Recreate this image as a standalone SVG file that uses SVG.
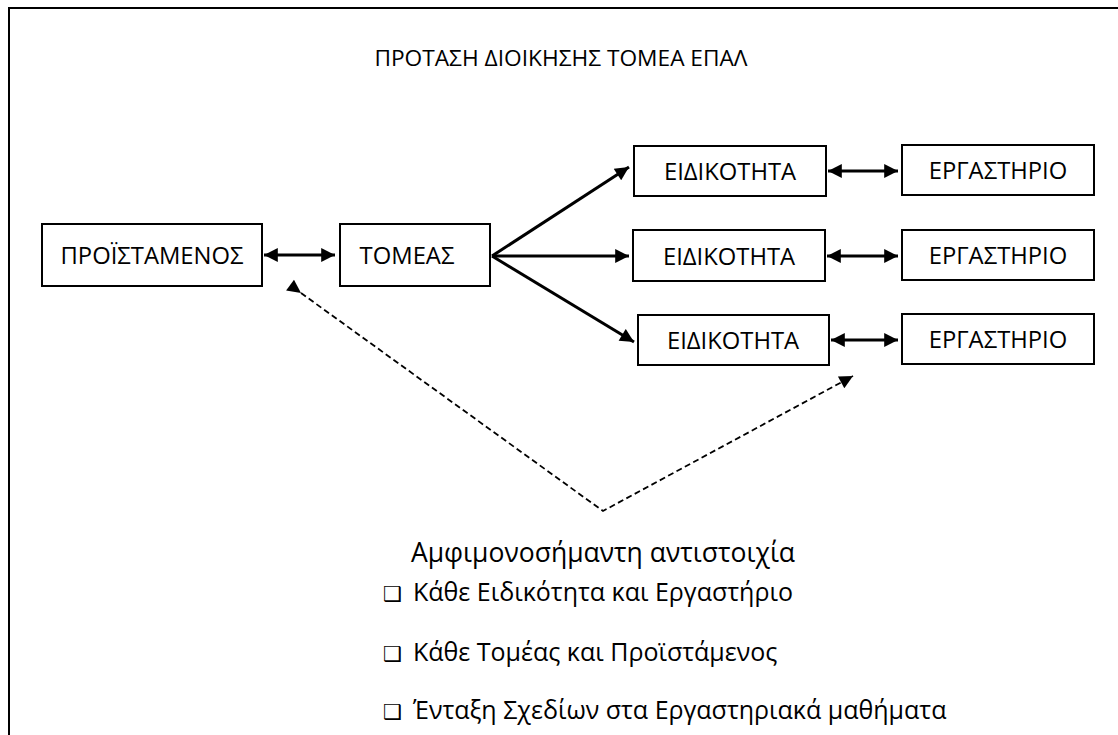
<svg xmlns="http://www.w3.org/2000/svg" width="1118" height="735" viewBox="0 0 1118 735">
<defs>
<style>
.t{font-family:"Open Sans","Noto Sans","DejaVu Sans",sans-serif;fill:#000}
.lbl{font-size:23.8px;text-anchor:middle}
.box{fill:#fff;stroke:#000;stroke-width:2}
.sol{fill:none;stroke:#000;stroke-width:3}
.dash{fill:none;stroke:#000;stroke-width:1.8;stroke-dasharray:6,3.5}
.bul{font-family:"DejaVu Sans",sans-serif;font-size:21px;font-weight:bold}
.nt{font-size:25px}
</style>
<marker id="ah" viewBox="0 0 10 10" refX="10" refY="5" markerWidth="5.2" markerHeight="4.6" orient="auto-start-reverse" markerUnits="strokeWidth">
<path d="M0,0 L10,5 L0,10 Z" fill="#000"/>
</marker>
<marker id="ahd" viewBox="0 0 10 10" refX="10" refY="5" markerWidth="8.5" markerHeight="7.5" orient="auto" markerUnits="strokeWidth">
<path d="M0,0 L10,5 L0,10 Z" fill="#000"/>
</marker>
</defs>
<rect x="0" y="0" width="1118" height="735" fill="#fff"/>
<rect x="9" y="8" width="1120" height="740" fill="none" stroke="#000" stroke-width="2"/>
<text class="t" x="561" y="66" font-size="22.7" text-anchor="middle">ΠΡΟΤΑΣΗ ΔΙΟΙΚΗΣΗΣ ΤΟΜΕΑ ΕΠΑΛ</text>

<g id="connectors">
<line class="sol" x1="264" y1="255" x2="335" y2="255" marker-start="url(#ah)" marker-end="url(#ah)"/>
<line class="sol" x1="492" y1="256" x2="629" y2="167" marker-end="url(#ah)"/>
<line class="sol" x1="492" y1="256" x2="629" y2="256" marker-end="url(#ah)"/>
<line class="sol" x1="492" y1="256" x2="634" y2="342" marker-end="url(#ah)"/>
<line class="sol" x1="828" y1="171" x2="898" y2="171" marker-start="url(#ah)" marker-end="url(#ah)"/>
<line class="sol" x1="827" y1="256" x2="898" y2="256" marker-start="url(#ah)" marker-end="url(#ah)"/>
<line class="sol" x1="831" y1="340" x2="898" y2="340" marker-start="url(#ah)" marker-end="url(#ah)"/>
<polyline class="dash" points="301,293 603,511 853,376" marker-start="url(#ahd)" marker-end="url(#ahd)"/>
</g>

<g id="n-proistamenos"><rect class="box" x="42" y="224" width="220" height="62"/><text class="t lbl" x="152" y="263.5">ΠΡΟΪΣΤΑΜΕΝΟΣ</text></g>
<g id="n-tomeas"><rect class="box" x="340" y="224" width="150" height="62"/><text class="t lbl" x="407" y="263.5">ΤΟΜΕΑΣ</text></g>
<g id="n-eid1"><rect class="box" x="634" y="146" width="192" height="50"/><text class="t lbl" x="730" y="180">ΕΙΔΙΚΟΤΗΤΑ</text></g>
<g id="n-eid2"><rect class="box" x="633" y="230" width="192" height="51"/><text class="t lbl" x="729" y="265">ΕΙΔΙΚΟΤΗΤΑ</text></g>
<g id="n-eid3"><rect class="box" x="638" y="315" width="191" height="50"/><text class="t lbl" x="733" y="349">ΕΙΔΙΚΟΤΗΤΑ</text></g>
<g id="n-erg1"><rect class="box" x="902" y="145" width="192" height="50"/><text class="t lbl" x="998" y="179">ΕΡΓΑΣΤΗΡΙΟ</text></g>
<g id="n-erg2"><rect class="box" x="902" y="230" width="192" height="50"/><text class="t lbl" x="998" y="264">ΕΡΓΑΣΤΗΡΙΟ</text></g>
<g id="n-erg3"><rect class="box" x="902" y="314" width="192" height="50"/><text class="t lbl" x="998" y="348">ΕΡΓΑΣΤΗΡΙΟ</text></g>

<g id="notes">
<text class="t" x="603" y="562" font-size="26.5" text-anchor="middle">Αμφιμονοσήμαντη αντιστοιχία</text>
<text class="bul" x="383" y="601">❑</text>
<text class="t nt" x="413" y="601">Κάθε Ειδικότητα και Εργαστήριο</text>
<text class="bul" x="383" y="661">❑</text>
<text class="t nt" x="413" y="661">Κάθε Τομέας και Προϊστάμενος</text>
<text class="bul" x="383" y="719">❑</text>
<text class="t nt" x="413" y="719">Ένταξη Σχεδίων στα Εργαστηριακά μαθήματα</text>
</g>
</svg>
